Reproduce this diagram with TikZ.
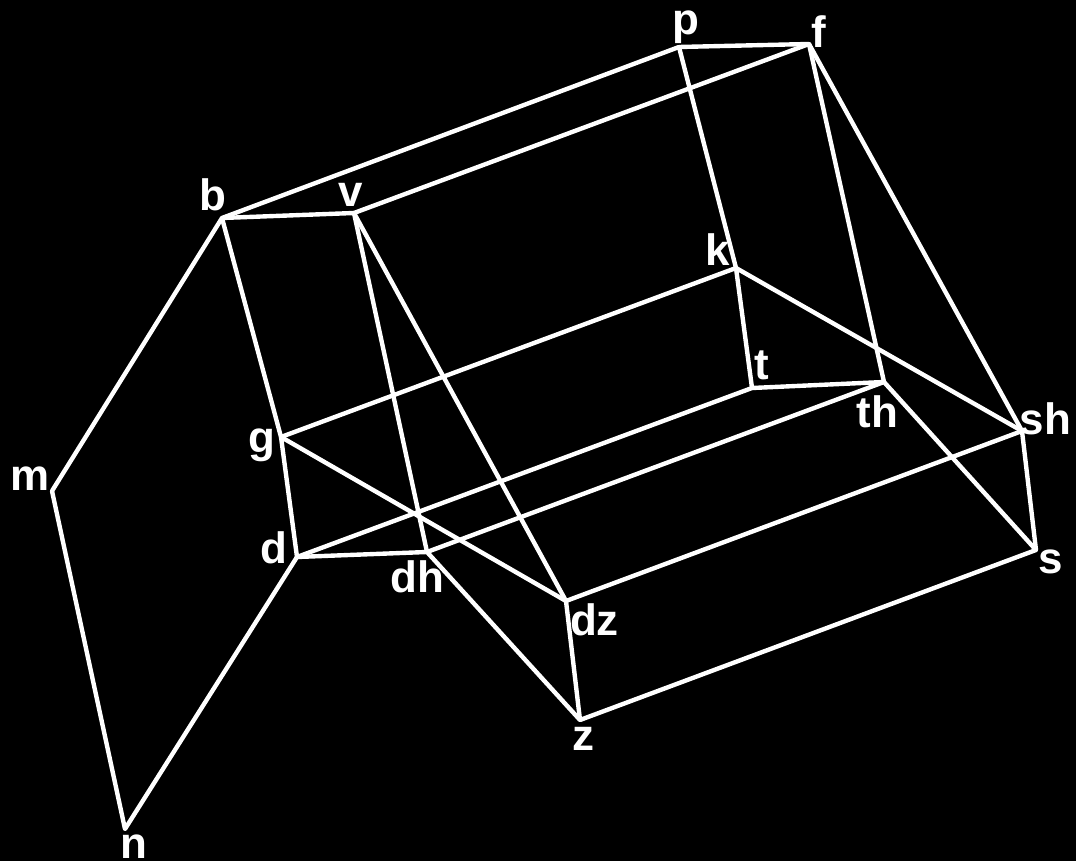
\documentclass[tikz,border=0pt]{standalone}
\usepackage{fontspec}
\setmainfont{Liberation Sans}
\begin{document}
\begin{tikzpicture}[
    x=0.02cm, y=-0.02cm,
    font=\fontsize{25}{25}\selectfont\bfseries,
    vertex/.style={inner sep=0pt, minimum size=0pt},
    tag/.style={text=white, inner sep=0pt, anchor=base},
    edge/.style={draw=white, line width=2.5pt, line cap=round}
]
\fill[black] (0,0) rectangle (1076,861);
\useasboundingbox (0,0) rectangle (1076,861);
% Vertices
\node[vertex] (p) at (679,47) {};
\node[vertex] (f) at (809,44) {};
\node[vertex] (b) at (222,218) {};
\node[vertex] (v) at (354,213) {};
\node[vertex] (k) at (736,268) {};
\node[vertex] (t) at (752,388) {};
\node[vertex] (th) at (884,382) {};
\node[vertex] (g) at (281,437) {};
\node[vertex] (d) at (297,557) {};
\node[vertex] (dh) at (427,552) {};
\node[vertex] (dz) at (566,601) {};
\node[vertex] (z) at (580,720) {};
\node[vertex] (s) at (1036,550) {};
\node[vertex] (sh) at (1022,431) {};
\node[vertex] (m) at (52,491) {};
\node[vertex] (n) at (125,829) {};

% Edges
\foreach \from/\to in {b/p, p/f, b/v, v/f, p/k, k/t, f/th, f/sh, k/g, k/sh, t/th, t/d,
    th/dh, th/s, sh/s, sh/dz, s/z, dz/z, g/dz, g/d, d/dh, dh/z, b/g, v/dh, v/dz, b/m, m/n, n/d}
    \draw[edge] (\from) -- (\to);

% Labels
\node[tag] (lp) at (686,35) {p};
\node[tag] (lf) at (819,48) {f};
\node[tag] (lb) at (213,211) {b};
\node[tag] (lv) at (350.5,207) {v};
\node[tag] (lk) at (718,266) {k};
\node[tag] (lt) at (761.5,380) {t};
\node[tag] (lth) at (877.5,428) {th};
\node[tag] (lsh) at (1045.5,435) {sh};
\node[tag] (lg) at (262,453) {g};
\node[tag] (lm) at (30,491) {m};
\node[tag] (ld) at (274,564) {d};
\node[tag] (ldh) at (417,593) {dh};
\node[tag] (ldz) at (594.5,636) {dz};
\node[tag] (ls) at (1051,574) {s};
\node[tag] (lz) at (583,750) {z};
\node[tag] (ln) at (134,858) {n};
\end{tikzpicture}
\end{document}
